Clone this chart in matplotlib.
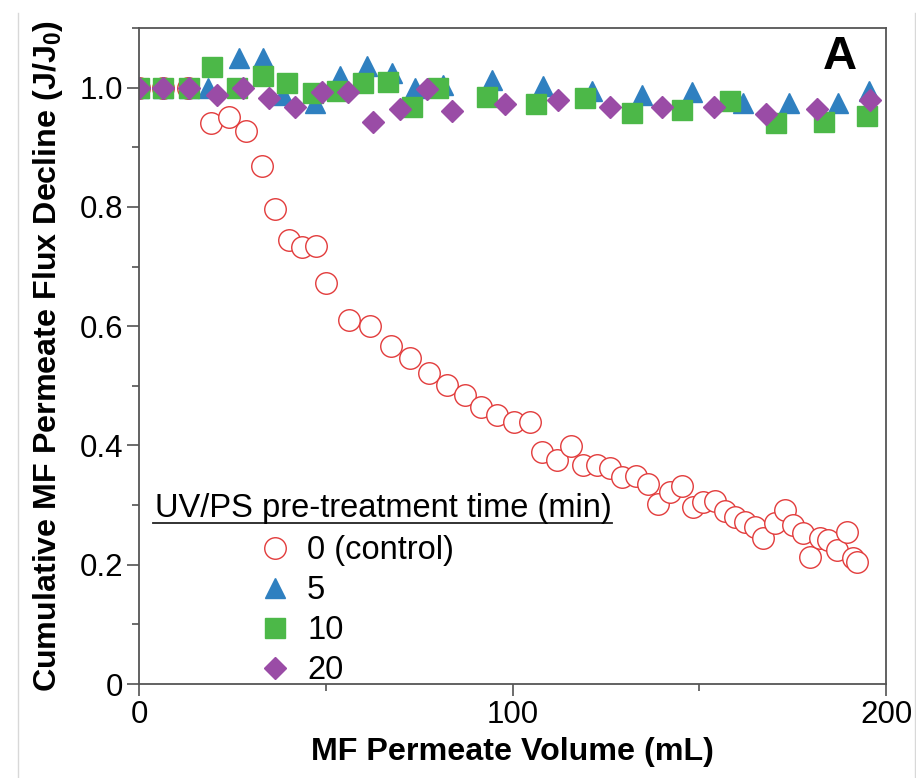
import matplotlib
matplotlib.use("Agg")
import matplotlib.pyplot as plt
from matplotlib.lines import Line2D
from matplotlib.ticker import MultipleLocator

plt.rcParams['font.family'] = ['Liberation Sans', 'DejaVu Sans']
plt.rcParams['mathtext.fontset'] = 'custom'
plt.rcParams['mathtext.bf'] = 'Liberation Sans:bold'
plt.rcParams['mathtext.rm'] = 'Liberation Sans'

# 0 min (control)
ctrl_x = [0, 6.4, 13.1, 19.3, 24.1, 28.6, 32.9, 36.4, 40.2, 43.6, 47.4, 50.1, 56.2, 61.8,
          67.5, 72.6, 77.6, 82.5, 87.3, 91.6, 95.9, 100.4, 104.7, 107.9, 111.9, 115.7,
          118.9, 122.6, 126.1, 129.3, 133.1, 136.3, 139.0, 142.2, 145.4, 148.3, 151.0,
          154.2, 156.9, 159.6, 162.2, 164.9, 167.1, 170.3, 173.0, 175.1, 177.8, 179.7,
          182.3, 184.5, 186.9, 189.6, 191.2, 192.3]
ctrl_y = [1.0, 1.0, 1.0, 0.940, 0.950, 0.928, 0.868, 0.797, 0.745, 0.732, 0.734, 0.673,
          0.611, 0.601, 0.566, 0.546, 0.521, 0.501, 0.484, 0.464, 0.451, 0.440, 0.440,
          0.389, 0.375, 0.399, 0.367, 0.367, 0.363, 0.347, 0.348, 0.336, 0.301, 0.322,
          0.332, 0.297, 0.305, 0.307, 0.290, 0.280, 0.271, 0.263, 0.245, 0.270, 0.291,
          0.266, 0.253, 0.213, 0.245, 0.241, 0.224, 0.255, 0.211, 0.204]

# 5 min
t5_x = [0, 6.4, 13.4, 18.5, 26.8, 33.2, 38.6, 47.1, 53.8, 61.0, 67.7, 73.9, 81.4, 94.5,
        108.2, 121.3, 134.7, 148.1, 161.7, 174.0, 187.1, 195.4]
t5_y = [1.0, 1.0, 1.0, 1.0, 1.05, 1.05, 0.987, 0.975, 1.020, 1.037, 1.025, 1.0, 1.005,
        1.012, 1.003, 0.995, 0.987, 0.992, 0.975, 0.975, 0.975, 0.995]

# 10 min
t10_x = [0, 6.4, 13.4, 19.5, 26.2, 33.2, 39.6, 46.6, 53.0, 60.0, 66.7, 73.2, 80.1, 93.2,
         106.3, 119.4, 132.0, 145.4, 158.2, 170.6, 183.4, 194.9]
t10_y = [1.0, 1.0, 1.0, 1.034, 1.0, 1.020, 1.007, 0.991, 0.995, 1.007, 1.010, 0.968,
         0.999, 0.985, 0.973, 0.983, 0.958, 0.963, 0.978, 0.940, 0.943, 0.953]

# 20 min
t20_x = [0, 6.4, 13.4, 20.9, 27.8, 34.8, 41.8, 49.1, 56.0, 62.7, 69.9, 77.1, 83.8, 98.0,
         112.2, 126.1, 140.0, 153.9, 167.9, 181.5, 195.7]
t20_y = [1.0, 1.0, 1.0, 0.988, 1.0, 0.982, 0.968, 0.993, 0.992, 0.943, 0.965, 0.997,
         0.961, 0.972, 0.980, 0.967, 0.968, 0.968, 0.956, 0.965, 0.980]

labels = ['0 (control)', '5', '10', '20']
red, blue, green, purple = '#e23b3b', '#2f80c0', '#4cb848', '#9a4ca6'

fig = plt.figure(figsize=(9.16, 7.78), dpi=100)
ax = fig.add_axes([139/916, 1-684/778, 747/916, 656/778])

# helper: pixel position -> axes fraction
def axfrac(px, py):
    return (px - 139) / 747, (684 - py) / 656

h0, = ax.plot(ctrl_x, ctrl_y, 'o', ms=15.5, mfc='white', mec=red, mew=1.0, ls='none')
h1, = ax.plot(t5_x, t5_y, '^', ms=14, color=blue, mec=blue, ls='none')
h2, = ax.plot(t10_x, t10_y, 's', ms=15, color=green, mec=green, ls='none')
h3, = ax.plot(t20_x, t20_y, 'D', ms=11.7, color=purple, mec=purple, ls='none')

ax.set_xlim(0, 200)
ax.set_ylim(0, 1.1)
ax.xaxis.set_major_locator(MultipleLocator(100))
ax.xaxis.set_minor_locator(MultipleLocator(50))
ax.yaxis.set_minor_locator(MultipleLocator(0.1))
ax.set_yticks([0, 0.2, 0.4, 0.6, 0.8, 1.0])
ax.set_yticklabels(['0', '0.2', '0.4', '0.6', '0.8', '1.0'])
ax.tick_params(which='both', direction='out', top=False, right=False,
               color='#444444', width=1.1, labelsize=22.5, pad=3)
ax.tick_params(which='major', length=8.6)
ax.tick_params(which='minor', length=5)
for s in ax.spines.values():
    s.set_color('#555555')
    s.set_linewidth(1.3)

ax.set_xlabel('MF Permeate Volume (mL)', fontsize=23.2, fontweight='bold', labelpad=5)
ax.set_ylabel(r'Cumulative MF Permeate Flux Decline (J/J$_\mathbf{0}$)',
              fontsize=23.2, fontweight='bold', labelpad=10)

ax.text(*axfrac(840, 57), 'A', fontsize=34, fontweight='bold', ha='center', va='center',
        transform=ax.transAxes)

# legend title with underline
ax.text(*axfrac(155, 517), 'UV/PS pre-treatment time (min)', fontsize=23.5,
        ha='left', va='baseline', transform=ax.transAxes)
x0, yl = axfrac(153, 523)
x1, _ = axfrac(612, 523)
ax.add_line(Line2D([x0, x1], [yl, yl], transform=ax.transAxes, color='#222222', lw=1.3))
ax.legend([h0, h1, h2, h3], labels, loc='upper left',
          bbox_to_anchor=axfrac(258.7, 535), frameon=False, fontsize=23.5,
          handlelength=1.0, handletextpad=0.48, labelspacing=0.28, borderpad=0,
          borderaxespad=0)

# screenshot frame edges
fig.add_artist(Line2D([18/916]*2, [0, 1-13/778], color='#d8d8d8', lw=1))
fig.add_artist(Line2D([915/916]*2, [0, 1-13/778], color='#d8d8d8', lw=1))

fig.savefig('out.png', dpi=100)
